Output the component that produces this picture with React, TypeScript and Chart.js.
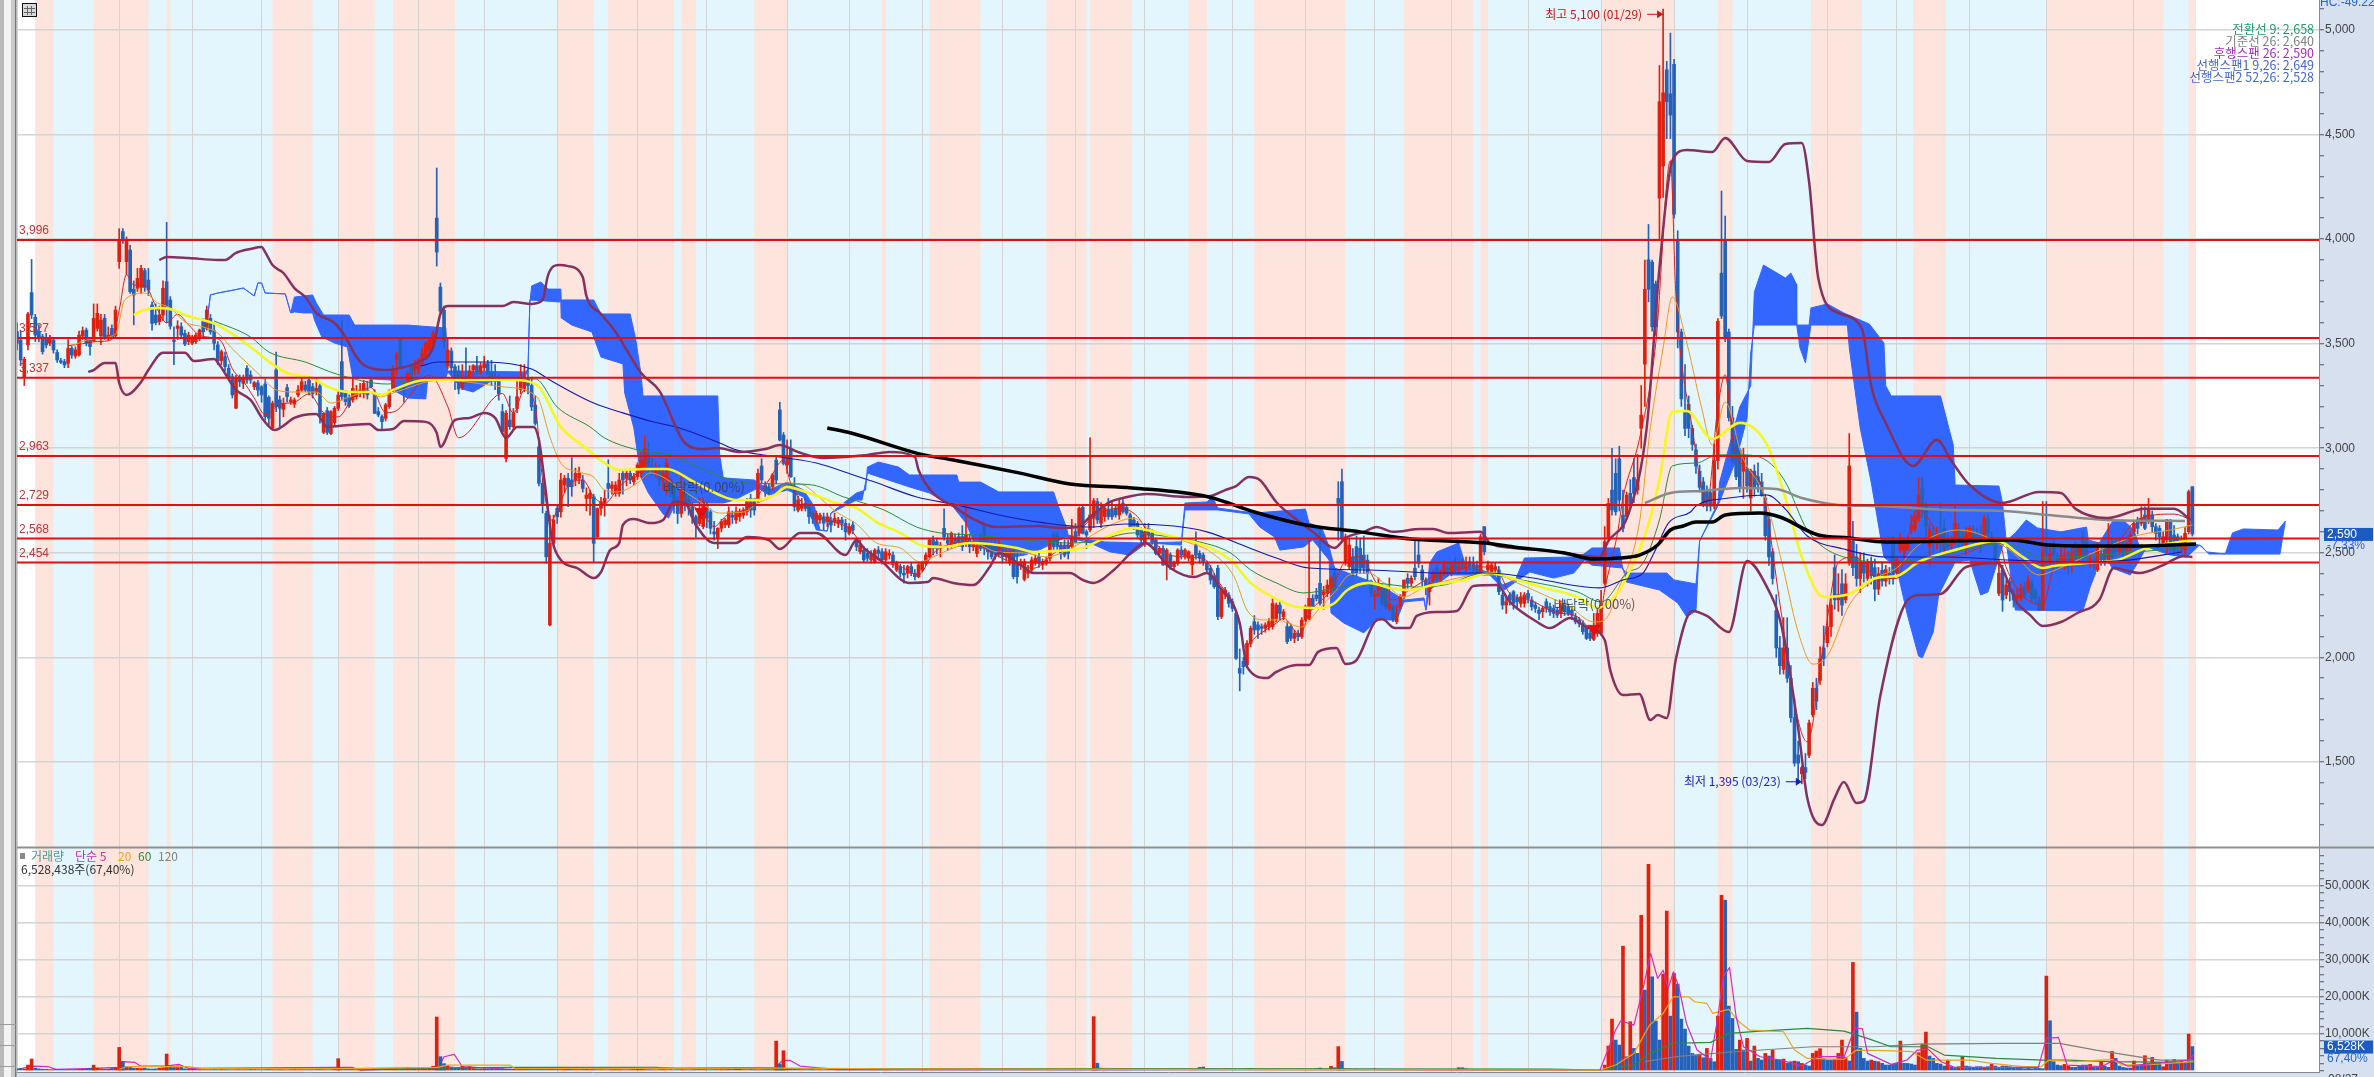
import React, { useEffect, useRef } from "react";
import { Chart, registerables } from "chart.js";

Chart.register(...registerables);

const FONT_NUM = '"Liberation Sans", sans-serif';
const FONT_KR = '"Noto Sans CJK KR", sans-serif';
const X_MAX = 630.7;
const PRICE_MIN = 1093;
const PRICE_MAX = 5143.5;
const VOL_MIN = -350;
const VOL_MAX = 60460;
const COLOR_UP = "#e0200f";
const COLOR_DOWN = "#2462ba";
const PANEL = "#d6e0ee";

const monthDays = [0, 28, 48, 67, 88, 110, 128, 148, 170, 189, 211, 228, 248, 270, 290, 309, 333, 353, 372, 393, 414, 434, 454, 474, 496, 515, 535, 556, 580];
const monthLabels = ["2018/04", "05", "06", "07", "08", "09", "10", "11", "12", "2019/01", "02", "03", "04", "05", "06", "07", "08", "09", "10", "11", "12", "2020/01", "02", "03", "04", "05", "06", "07", "08"];
const priceTicks = [1200, 1300, 1400, 1500, 1600, 1700, 1800, 1900, 2000, 2100, 2200, 2300, 2400, 2500, 2600, 2700, 2800, 2900, 3000, 3100, 3200, 3300, 3400, 3500, 3600, 3700, 3800, 3900, 4000, 4100, 4200, 4300, 4400, 4500, 4600, 4700, 4800, 4900, 5000, 5100];
const volumeTicks = [0, 2000, 4000, 6000, 8000, 10000, 12000, 14000, 16000, 18000, 20000, 22000, 24000, 26000, 28000, 30000, 32000, 34000, 36000, 38000, 40000, 42000, 44000, 46000, 48000, 50000, 52000, 54000, 56000, 58000];
const levels = [3996, 3527, 3337, 2963, 2729, 2568, 2454];
const levelLabels = ["3,996", "3,527", "3,337", "2,963", "2,729", "2,568", "2,454"];
const trendBandStart = 5;
const trendBandEnd = 597;
const pinkBands = [[5, 10], [21, 36], [41, 42], [70, 81], [88, 98], [103, 120], [148, 158], [162, 180], [182, 186], [202, 211], [237, 238], [250, 264], [282, 293], [294, 305.5], [321, 326], [339, 364], [380, 399], [401, 403], [434, 454], [466, 470], [491.5, 505.5], [519.5, 528.5], [556, 588], [595, 597]];

const candlesA = [[3558,3600,3470,3502],[3518,3560,3395,3422],[3342,3435,3300,3425],[3494,3650,3470,3642],[3744,3903,3620,3637],[3626,3640,3510,3541],[3557,3590,3510,3533],[3533,3545,3450,3462],[3526,3550,3480,3494],[3502,3540,3490,3526],[3518,3530,3455,3470],[3458,3470,3410,3422],[3419,3430,3405,3411],[3414,3425,3385,3398],[3406,3520,3385,3478],[3478,3490,3430,3446],[3441,3485,3430,3470],[3446,3560,3440,3541],[3536,3580,3520,3562],[3565,3575,3490,3502],[3518,3530,3445,3486],[3513,3690,3510,3621],[3573,3690,3560,3645],[3537,3640,3495,3613],[3621,3640,3520,3525],[3530,3580,3515,3541],[3573,3590,3525,3538],[3537,3680,3530,3661],[3892,4050,3860,3999],[4036,4050,3980,3996],[3892,4010,3830,3999],[3948,3970,3740,3749],[3760,3800,3590,3733],[3765,3860,3750,3812],[3769,3875,3740,3860],[3849,3860,3750,3769],[3804,3860,3730,3757],[3685,3700,3565,3597],[3637,3690,3590,3600],[3605,3680,3590,3637],[3637,3800,3610,3765],[3796,4080,3600,3677],[3709,3725,3570,3584],[3518,3580,3400,3510],[3573,3610,3520,3585],[3581,3600,3530,3541],[3549,3565,3490,3498],[3510,3555,3495,3541],[3502,3540,3495,3533],[3510,3550,3500,3541],[3525,3570,3515,3565],[3605,3620,3535,3557],[3573,3680,3565,3661],[3621,3640,3545,3557],[3562,3600,3470,3502],[3494,3510,3400,3419],[3419,3470,3400,3462],[3438,3460,3370,3390],[3382,3400,3330,3342],[3342,3355,3240,3255],[3191,3350,3190,3334],[3334,3350,3295,3318],[3310,3350,3285,3339],[3382,3395,3310,3326],[3350,3370,3310,3326],[3294,3320,3280,3313],[3313,3325,3250,3278],[3294,3300,3220,3255],[3307,3330,3135,3151],[3243,3250,3105,3143],[3098,3225,3090,3215],[3374,3460,3175,3199],[3231,3250,3100,3191],[3186,3240,3150,3215],[3290,3305,3220,3247],[3223,3245,3210,3231],[3211,3240,3195,3231],[3255,3300,3245,3278],[3278,3345,3270,3318],[3302,3320,3270,3278],[3326,3340,3255,3270],[3294,3310,3240,3262],[3270,3335,3255,3286],[3298,3310,3120,3151],[3076,3170,3070,3167],[3180,3195,3066,3076],[3071,3180,3065,3175],[3122,3200,3110,3191],[3191,3270,3180,3254],[3414,3610,3230,3247],[3262,3275,3205,3223],[3242,3255,3195,3202],[3231,3330,3220,3286],[3247,3300,3235,3270],[3262,3310,3245,3278],[3262,3325,3240,3310],[3278,3320,3235,3255],[3326,3340,3290,3294],[3266,3280,3165,3167],[3175,3195,3150,3159],[3151,3160,3085,3127],[3143,3215,3130,3207],[3199,3280,3190,3270],[3278,3395,3270,3374],[3425,3460,3350,3446],[3526,3530,3385,3390],[3294,3310,3220,3275],[3318,3370,3310,3358],[3390,3400,3310,3318],[3374,3420,3350,3406],[3374,3430,3355,3422],[3406,3480,3395,3454],[3438,3510,3425,3502],[3470,3530,3450,3518],[3486,3560,3475,3549]];
const candlesB = [[4101,4340,3871,3938],[3770,3790,3640,3655],[3660,3680,3480,3510],[3393,3530,3380,3470],[3465,3480,3360,3385],[3390,3400,3280,3325],[3369,3395,3260,3283],[3290,3400,3280,3330],[3340,3480,3310,3330],[3330,3395,3320,3370],[3375,3400,3345,3395],[3395,3440,3350,3365],[3365,3410,3355,3395],[3385,3440,3370,3405],[3405,3420,3350,3360],[3360,3420,3300,3335],[3335,3400,3280,3320],[3320,3350,3230,3260],[3175,3210,3070,3080],[2951,3180,2935,3167],[3135,3250,3090,3103],[3103,3190,3090,3167],[3190,3330,3170,3246],[3280,3400,3260,3326],[3286,3400,3270,3330],[3330,3380,3260,3300],[3300,3340,3180,3198],[3206,3250,3110,3119],[3007,3030,2820,2832],[2832,2850,2690,2728],[2688,2700,2450,2481],[2155,2680,2150,2545],[2545,2680,2530,2657],[2712,2730,2640,2672],[2696,2880,2670,2848],[2824,2870,2790,2856],[2856,2880,2720,2816],[2848,2955,2770,2816],[2848,2905,2820,2880],[2856,2910,2830,2880],[2848,2870,2790,2808],[2760,2810,2700,2776],[2760,2800,2680,2784],[2768,2780,2456,2545],[2577,2715,2570,2712],[2712,2765,2680,2744],[2736,2800,2675,2760],[2832,2945,2760,2808],[2808,2840,2780,2824],[2784,2840,2770,2824],[2784,2880,2770,2848],[2880,2890,2780,2848],[2856,2890,2820,2880],[2880,2900,2830,2848],[2840,2880,2825,2864],[2864,2930,2850,2920],[2880,2980,2860,2943],[2904,3060,2890,3000],[2967,3030,2880,2904],[2912,2950,2870,2896],[2880,2930,2860,2904],[2896,2920,2820,2848],[2848,2900,2800,2880],[2848,2950,2780,2928],[2848,2860,2770,2800],[2816,2830,2690,2736],[2752,2770,2640,2688],[2688,2880,2670,2800],[2784,2800,2700,2736],[2752,2770,2680,2720],[2720,2740,2640,2672],[2672,2680,2575,2633],[2640,2760,2630,2696],[2625,2760,2615,2744],[2720,2740,2620,2665],[2696,2710,2590,2617],[2600,2650,2560,2590],[2569,2620,2520,2617],[2617,2660,2600,2649],[2633,2665,2620,2657],[2633,2720,2620,2696],[2680,2700,2640,2670],[2657,2720,2640,2696],[2672,2710,2650,2696],[2680,2715,2665,2704],[2696,2760,2680,2752],[2760,2780,2670,2704],[2744,2760,2680,2704],[2752,2900,2740,2880],[2915,2950,2830,2848],[2824,2840,2770,2800],[2816,2830,2780,2792],[2816,2880,2800,2872],[2943,2960,2830,2848],[3183,3220,3035,3039],[3063,3075,2920,2927],[2920,3040,2880,2959],[2999,3040,2860,2864],[2800,2860,2700,2720],[2704,2770,2695,2752],[2712,2760,2700,2728],[2736,2760,2700,2712],[2720,2730,2640,2672],[2688,2700,2640,2665],[2657,2700,2640,2688],[2657,2690,2640,2680],[2672,2690,2610,2641],[2649,2690,2625,2672],[2657,2670,2600,2633],[2649,2690,2630,2665],[2641,2670,2620,2657],[2657,2670,2610,2641],[2641,2660,2560,2601],[2593,2640,2585,2625],[2633,2650,2590,2609]];
const candlesC = [[2553,2570,2510,2529],[2505,2560,2495,2537],[2513,2530,2455,2466],[2497,2520,2460,2474],[2466,2510,2450,2489],[2458,2520,2450,2513],[2513,2530,2470,2497],[2505,2520,2445,2466],[2466,2520,2455,2505],[2489,2515,2470,2497],[2489,2505,2430,2450],[2418,2460,2410,2450],[2434,2445,2385,2402],[2402,2440,2355,2394],[2402,2440,2380,2434],[2434,2450,2390,2402],[2402,2420,2370,2386],[2386,2450,2380,2442],[2418,2460,2410,2450],[2450,2500,2440,2489],[2481,2570,2470,2561],[2561,2580,2490,2521],[2553,2570,2495,2521],[2521,2550,2480,2537],[2617,2710,2560,2577],[2561,2590,2510,2545],[2537,2600,2520,2593],[2569,2590,2530,2545],[2577,2595,2530,2553],[2577,2630,2510,2529],[2545,2720,2530,2585],[2569,2590,2500,2529],[2529,2570,2510,2553],[2497,2540,2480,2537],[2569,2590,2510,2521],[2625,2640,2490,2521],[2553,2570,2470,2505],[2545,2560,2470,2481],[2545,2560,2470,2505],[2513,2560,2480,2545],[2513,2530,2450,2481],[2481,2520,2460,2505],[2450,2520,2440,2505],[2513,2530,2375,2386],[2450,2500,2355,2386],[2442,2470,2420,2458],[2373,2470,2365,2458],[2402,2440,2380,2418],[2418,2480,2400,2466],[2450,2490,2440,2474],[2482,2500,2430,2450],[2442,2470,2420,2458],[2450,2480,2440,2466],[2474,2570,2460,2561],[2588,2600,2510,2529],[2588,2600,2510,2529],[2537,2550,2470,2497],[2537,2560,2480,2489],[2537,2560,2470,2497],[2529,2660,2520,2577],[2601,2640,2550,2553],[2593,2720,2580,2713],[2717,2730,2590,2593],[2601,2610,2520,2585],[2609,3050,2600,2681],[2665,2760,2620,2749],[2745,2760,2640,2657],[2641,2740,2620,2713],[2673,2725,2650,2713],[2705,2760,2660,2673],[2705,2745,2660,2673],[2713,2730,2670,2681],[2681,2760,2660,2729],[2737,2755,2690,2697],[2717,2730,2680,2689],[2681,2690,2620,2625],[2657,2670,2610,2625],[2641,2650,2570,2585],[2609,2620,2540,2561],[2545,2640,2530,2601],[2617,2640,2570,2585],[2593,2610,2540,2553],[2561,2570,2490,2497],[2497,2530,2480,2521],[2521,2535,2440,2442],[2442,2520,2370,2513],[2489,2500,2420,2434],[2434,2460,2420,2450],[2450,2520,2440,2513],[2513,2530,2470,2489],[2481,2520,2470,2513],[2474,2510,2460,2505],[2442,2490,2395,2489],[2537,2600,2470,2489],[2497,2510,2450,2474],[2489,2500,2440,2458],[2450,2460,2400,2418],[2426,2440,2350,2370],[2386,2400,2330,2338],[2426,2440,2180,2195],[2195,2330,2185,2322],[2298,2335,2280,2322],[2298,2310,2240,2258],[2266,2280,2220,2234],[2210,2220,1990,1995],[1947,2040,1840,1924],[1980,2000,1920,1955],[1963,2080,1950,2067],[2067,2150,2050,2139],[2170,2200,2110,2131],[2155,2170,2090,2131],[2147,2160,2110,2139],[2139,2165,2120,2155],[2147,2185,2130,2171],[2147,2280,2135,2258]];
const candlesD = [[2186,2260,2170,2250],[2250,2270,2180,2210],[2194,2230,2180,2218],[2147,2170,2065,2075],[2147,2160,2080,2091],[2091,2130,2070,2115],[2115,2130,2080,2099],[2099,2190,2090,2178],[2178,2250,2170,2242],[2186,2570,2180,2282],[2282,2300,2230,2242],[2298,2330,2270,2282],[2354,2620,2250,2258],[2298,2340,2230,2314],[2306,2370,2290,2346],[2322,2390,2310,2378],[2402,2420,2310,2322],[2760,2840,2560,2736],[2840,2900,2560,2569],[2450,2590,2440,2577],[2434,2570,2420,2537],[2481,2520,2390,2402],[2529,2580,2390,2402],[2521,2570,2400,2426],[2489,2580,2400,2426],[2465,2490,2360,2402],[2362,2370,2290,2306],[2290,2320,2230,2306],[2322,2380,2290,2354],[2338,2350,2250,2258],[2330,2340,2230,2242],[2234,2380,2220,2258],[2242,2250,2170,2178],[2170,2250,2160,2210],[2242,2300,2230,2290],[2290,2370,2280,2370],[2378,2400,2330,2354],[2354,2390,2340,2378],[2426,2560,2370,2386],[2489,2560,2430,2450],[2418,2440,2340,2370],[2370,2380,2300,2338],[2314,2365,2250,2354],[2370,2420,2350,2402],[2426,2440,2350,2370],[2378,2420,2360,2402],[2402,2460,2390,2442],[2426,2450,2390,2402],[2402,2450,2390,2442],[2450,2480,2410,2418],[2418,2460,2405,2434],[2450,2470,2420,2426],[2426,2480,2410,2450],[2458,2480,2420,2434],[2450,2480,2400,2418],[2442,2460,2395,2410],[2410,2590,2400,2577],[2625,2625,2490,2505],[2418,2460,2400,2442],[2410,2450,2395,2442],[2418,2450,2405,2434],[2418,2435,2300,2314],[2298,2310,2230,2250],[2250,2290,2210,2266],[2298,2310,2250,2274],[2314,2320,2230,2258],[2282,2300,2240,2266],[2258,2310,2240,2290],[2258,2310,2240,2298],[2306,2320,2260,2282],[2274,2290,2225,2242],[2250,2265,2215,2234],[2226,2240,2180,2210],[2218,2245,2190,2234],[2266,2280,2215,2234],[2242,2260,2200,2218],[2234,2250,2190,2210],[2226,2240,2190,2202],[2210,2270,2190,2250],[2258,2275,2200,2218],[2242,2255,2200,2210],[2226,2240,2180,2202],[2194,2210,2160,2170],[2178,2190,2145,2162],[2162,2175,2110,2123],[2139,2150,2085,2091],[2115,2130,2080,2091],[2086,2210,2080,2115],[2115,2240,2100,2210],[2115,2320,2105,2250],[2354,2625,2345,2553],[2569,2760,2560,2736],[2800,3000,2680,2705],[2880,2950,2680,2696],[2950,3010,2700,2752],[2680,2800,2600,2617],[2673,2790,2660,2776],[2784,2850,2710,2736],[2860,2950,2740,2784],[2800,2970,2780,2850]];
const candlesE = [[3095,3300,3000,3158],[3402,3900,3200,3760],[3901,4070,3700,3760],[3890,3900,3560,3581],[3786,3800,3540,3581],[4196,4830,4000,4657],[4350,5100,4200,4700],[4810,4850,4480,4657],[4695,4985,4480,4593],[4836,4860,4100,4119],[3991,4040,3480,3556],[3556,3570,3200,3236],[3171,3400,3060,3095],[3210,3250,3050,3095],[3095,3110,2990,3018],[2992,3020,2880,2915],[2890,2920,2790,2813],[2839,2860,2720,2736],[2800,2820,2700,2723],[2787,2800,2700,2723],[2723,3020,2710,2941],[2941,3620,2900,3607],[3837,4230,3620,3632],[3991,4110,3510,3530],[3556,3570,3130,3146],[3146,3200,2930,2941],[3018,3060,2850,2864],[2992,3000,2790,2813],[2890,3000,2760,2967],[2900,2960,2790,2820],[2762,2900,2700,2890],[2890,2920,2770,2813],[2864,2930,2790,2826],[2839,2880,2770,2775],[2762,2780,2560,2582],[2659,2680,2440,2480],[2505,2520,2350,2377],[2224,2300,2000,2045],[2045,2100,1920,1960],[1942,2190,1920,2045],[2045,2190,1880,1900],[1900,1960,1690,1712],[1712,1800,1480,1494],[1533,1600,1400,1494],[1443,1480,1395,1473],[1473,1540,1420,1450],[1532,1700,1520,1686],[1725,1880,1715,1852],[1852,1900,1750,1790],[1890,2050,1870,1993],[2045,2150,1960,1993],[2070,2250,2050,2147],[2147,2280,2100,2250],[2429,2490,2230,2275],[2275,2400,2220,2300],[2352,2420,2200,2250],[2275,2400,2260,2352],[2454,3070,2440,2915],[2557,2650,2390,2429],[2480,2540,2340,2377],[2377,2500,2310,2454],[2454,2500,2360,2403],[2377,2470,2340,2454],[2454,2480,2350,2390],[2429,2470,2270,2326],[2326,2430,2300,2400],[2416,2450,2340,2365],[2365,2440,2340,2420],[2403,2430,2350,2377],[2544,2580,2350,2377],[2403,2480,2390,2467]];
const candlesF = [[2513,2590,2500,2561],[2513,2570,2480,2553],[2521,2580,2510,2561],[2609,2680,2590,2633],[2617,2700,2600,2673],[2665,2860,2650,2776],[2808,2860,2670,2721],[2721,2740,2570,2625],[2529,2640,2440,2609],[2593,2630,2500,2545],[2545,2620,2520,2593],[2601,2740,2500,2545],[2617,2660,2490,2513],[2553,2590,2500,2529],[2537,2580,2510,2553],[2561,2730,2540,2641],[2617,2640,2520,2577],[2577,2600,2530,2545],[2529,2620,2490,2593],[2577,2630,2550,2617],[2593,2630,2540,2569],[2585,2620,2540,2569],[2593,2630,2500,2545],[2577,2680,2560,2665],[2665,2680,2570,2593],[2577,2600,2540,2561],[2553,2570,2440,2473],[2306,2470,2295,2402],[2418,2440,2220,2274],[2298,2370,2280,2346],[2362,2380,2270,2314],[2306,2320,2240,2274],[2282,2330,2260,2298],[2282,2350,2270,2330],[2338,2360,2280,2298],[2322,2390,2310,2370],[2354,2370,2260,2282],[2314,2330,2260,2282],[2274,2290,2225,2226],[2226,2745,2225,2505],[2529,2745,2440,2489],[2450,2530,2430,2497],[2529,2560,2440,2489],[2481,2500,2420,2450],[2466,2520,2450,2489],[2442,2520,2420,2481],[2489,2510,2400,2434],[2442,2530,2410,2497],[2529,2550,2440,2473],[2481,2540,2460,2521],[2577,2600,2440,2473],[2553,2570,2460,2489],[2450,2490,2430,2473],[2466,2480,2420,2441],[2418,2550,2410,2537],[2497,2520,2440,2466],[2513,2530,2440,2458],[2466,2640,2450,2537],[2545,2570,2470,2481],[2553,2570,2480,2505],[2505,2570,2490,2537],[2529,2550,2470,2497],[2513,2550,2490,2529],[2521,2600,2510,2585],[2601,2650,2590,2641],[2649,2670,2590,2617],[2641,2720,2630,2665],[2681,2720,2610,2617],[2649,2760,2640,2705],[2681,2700,2600,2625],[2625,2640,2560,2593],[2617,2630,2530,2577],[2545,2600,2530,2577],[2561,2660,2500,2657],[2649,2660,2510,2553],[2585,2630,2490,2513],[2577,2590,2490,2545],[2529,2580,2500,2561],[2513,2620,2480,2593],[2601,2800,2590,2792],[2816,2816,2580,2590]];
const candleChunkStarts = [0, 115, 230, 345, 445, 516];

const volumeEarly = [500,600,450,300,300,700,500,400,350,300,280,320,300,260,300,280,320,350,400,450,600,300,700,500,400,450,600,800,300,300,1100,900,700,650,600,700,500,450,500,700,800,300,1200,1000,1300,900,500,400,380,350,320,300,280,300,320,300,340,300,280,260,300,320,280,300,350,320,280,260,300,340,300,280,300,260,240,300,320,280,300,260,280,300,320,340,300,260,280,400,320,700,500,400,350,300,280,300,320,280,300,260,300,450,400,600,500,350,700,900,500,400,450,700,500,800,1200,300,320,300,1400,1000,800,900,1200,700,1100,600,500,450,500,400,380,350,420,500,380,400,350,420,380,350,320,340,300,360,320,300,340,320,300,280,350,380,320,300,280,320,340,300,320,280,300,260,280,300,320,300,280,260,300,320,700,400,320,300,280,260,300,320,280,300,260,280,300,260,240,280,300,320,300,280,260,300,280,320,300,340,320,700,500,300,280,320,300,260,280,300,320,300,280,1200,700,500,400,350,320,300,280,300,320,280,300,260,280,320,300,340,300,280,300,320,300,280,260,300,320,300,340,300,280,260,300,280,300,260,280,320,300,340,300,280,260,300,320,340,400,300,280,300,260,320,300,280,300,340,300,280,320,400,340,300,280,300,260,300,280,320,300,340,420,380,300,280,300,320,280,300,260,300,320,340,300,280,320,600,320,300,900,700,550,450,400,500,380,350,420,320,300,340,300,280,320,300,260,300,280,320,450,350,300,280,260,300,320,340,900,1000,600,450,400,380,350,500,420,380,350,320,400,500,650,500,420,450,380,350,400,320,300,280,320,300,340,380,400,300,280,320,500,700,320,300,1200,800,600,500,450,400,380,420,350,320,300,400,500,350,300,280,320,300,260,280,300,320,280,340,300,260,300,280,320,300,260,240,280,300,320,800,800,500,400,350,320,300,280,300,260,240,280,300,260,240,220,260,280,240,220,250,230,260,220,200,240,220,260,240,220,200,230,260,240];
const volumeSpikeDays = [3, 4, 21, 28, 29, 41, 88, 115, 116, 117, 208, 209, 210, 295, 296, 362, 363];
const volumeSpikeValues = [1530, 3150, 1500, 6300, 2500, 4500, 3240, 14500, 3800, 1900, 8000, 1800, 5400, 14600, 2000, 6500, 2500];
const volumeSpikeUp = [1, 1, 1, 1, 0, 1, 1, 1, 0, 0, 1, 0, 1, 1, 0, 1, 0];
const volumeLate = [[1500,1],[6660,1],[13950,1],[8280,0],[6930,0],[33660,1],[3780,0],[13230,1],[6030,0],[4680,0],[42000,1],[21780,0],[55800,1],[25380,0],[13410,0],[8280,0],[26100,1],[43110,1],[14760,0],[26280,1],[23400,0],[13950,0],[11250,0],[6660,0],[4680,0],[4230,0],[4500,1],[3510,0],[6030,1],[3330,0],[2430,0],[14760,1],[47430,1],[46080,0],[17460,0],[14130,0],[5760,0],[8280,1],[5580,0],[8730,1],[2610,0],[6660,1],[3330,0],[2880,0],[4680,1],[3960,0],[5580,1],[2880,0],[2880,0],[3150,1],[1980,0],[2430,0],[2610,1],[2430,0],[1980,1],[1530,0],[1260,0],[4680,1],[5310,1],[5940,1],[3330,0],[2880,0],[2880,0],[3060,1],[4680,1],[8280,1],[3600,1],[2610,0],[29250,1],[15840,0],[6030,0],[3330,0],[2610,0],[2880,1],[2610,0],[2430,1],[1980,0],[1530,0],[1530,0],[1710,0],[1980,0],[8010,1],[1980,0],[1980,0],[1800,0],[1530,0],[4860,1],[7200,1],[10440,1],[3960,0],[3330,0],[1980,0],[1800,0],[1260,0],[2880,1],[1080,0],[630,0],[1080,1],[3780,1],[1260,0],[1080,0],[900,0],[1080,0],[1080,0],[900,1],[1080,0],[1710,1],[1260,0],[630,0],[1260,0],[1260,0],[1080,0],[900,0],[630,0],[630,0],[540,0],[630,0],[540,0],[630,0],[630,0],[540,0],[25560,1],[13500,0],[2430,0],[1530,0],[1350,0],[1710,1],[1260,1],[900,0],[900,0],[1260,0],[1530,0],[1530,0],[1710,1],[900,0],[900,0],[2430,1],[1260,0],[900,0],[5220,1],[3330,0],[1260,0],[900,0],[720,0],[720,0],[2610,1],[1260,0],[1530,0],[4050,1],[1980,0],[3600,1],[2250,0],[2250,0],[1080,1],[2880,1],[1980,0],[3060,1],[1980,0],[2700,1],[1980,0],[9900,1],[6528,0]];

const bbUpper = [[39,3900],[41,3915],[47,3910],[55,3900],[57,3900],[60,3934],[64,3953],[67,3962],[68,3938],[70,3876],[73,3838],[76,3766],[79,3723],[82,3647],[87,3599],[90,3532],[93,3436],[95,3398],[101,3374],[106,3388],[110,3412],[114,3484],[116,3642],[118,3680],[133,3680],[136,3699],[141,3690],[144,3709],[145.5,3828],[148.5,3876],[151,3871],[155,3819],[156,3728],[160,3642],[164,3556],[171,3360],[176,3274],[183,3025],[188,2996],[192,3001],[198,2982],[205,2996],[209,3015],[214,2982],[221,2953],[233,2968],[239,2982],[246,2958],[247,2896],[251,2786],[257,2719],[261,2671],[268.5,2623],[279.5,2628],[286,2619],[290.5,2623],[294,2671],[299.5,2743],[303,2762],[309.5,2781],[320.5,2767],[327,2772],[331,2800],[334,2819],[337.5,2862],[340.5,2848],[345,2743],[350,2666],[355,2600],[361,2523],[364,2571],[369,2600],[372.5,2623],[377,2600],[384.5,2614],[388,2614],[392,2595],[401,2600],[403.5,2547],[410,2523],[418,2513],[427.5,2490],[433.5,2480],[436,2556],[441.5,2686],[446.5,3097],[450,3862],[453.5,4374],[457.5,4426],[464.5,4417],[468,4484],[474,4374],[480,4369],[484.5,4455],[489,4460],[491,4273],[493.5,3814],[499,3647],[505.5,3570],[508,3298],[512,3121],[519.5,2915],[526,3040],[530,2939],[535,2824],[544,2738],[554,2791],[560,2786],[564,2710],[572.5,2666],[583,2710],[591,2710],[595.5,2657]];
const bbLower = [[19.5,3365],[21,3374],[24,3408],[27,3408],[28,3312],[30,3255],[34,3317],[36,3374],[40,3456],[43,3456],[46,3456],[48.5,3417],[54,3427],[55.5,3398],[60,3279],[64,3231],[67.5,3135],[70.5,3087],[76,3145],[78.5,3159],[82,3164],[85,3102],[91,3111],[96.5,3116],[99,3087],[103,3092],[106,3130],[112,3126],[115,3073],[116,3006],[120,3135],[124,3145],[128,3169],[131,3145],[134,3049],[137,3102],[141.5,3102],[143,3040],[144.5,2848],[146.5,2576],[149,2465],[153.5,2427],[158,2379],[160,2408],[162.5,2513],[165,2547],[166,2633],[169,2661],[173.5,2642],[177,2657],[180,2743],[183,2738],[186,2633],[191,2547],[197,2547],[200,2576],[206,2561],[209,2518],[214.5,2595],[219,2595],[227,2489],[230,2561],[232,2523],[236.5,2465],[244.5,2356],[249.5,2360],[251,2379],[256.5,2356],[262,2346],[266.5,2432],[269,2499],[275,2442],[278.5,2403],[288.5,2403],[292,2370],[295,2356],[300.5,2418],[306,2513],[309,2547],[316,2427],[322.5,2384],[326,2403],[329.5,2336],[335,2164],[337,1954],[342.5,1901],[345,1930],[350.5,1963],[354,1963],[356.5,2026],[361.5,2045],[364,1968],[367,1987],[372,2169],[374,2183],[377.5,2140],[381.5,2140],[383.5,2198],[389,2217],[394.5,2222],[399,2341],[405.5,2346],[409,2265],[416.5,2169],[420,2140],[425.5,2188],[430,2145],[435,2083],[436.5,1940],[440,1820],[444.5,1825],[447.5,1700],[449.5,1724],[452,1710],[454.5,1992],[459,2222],[463,2198],[469,2121],[474,2461],[479,2351],[483.5,2145],[488,1662],[490.5,1327],[494.5,1198],[498,1327],[500.5,1404],[504,1303],[506,1313],[510.5,1815],[518,2274],[521.5,2298],[527,2303],[534,2432],[542.5,2451],[548,2260],[551.5,2203],[555,2150],[560,2169],[564.5,2212],[570.5,2274],[574.5,2427],[581.5,2403],[588,2441],[593.5,2484],[596,2480]];
const ma240 = [[222,3097],[228.5,3073],[247.5,2972],[256.5,2944],[274.5,2882],[288.5,2829],[305.5,2810],[326.5,2767],[339,2695],[353,2633],[368,2600],[382,2566],[402,2547],[410,2528],[424,2499],[432,2470],[439,2475],[444.5,2489],[449.5,2537],[453,2609],[456.5,2628],[460,2647],[464.5,2647],[468,2681],[477.5,2690],[483,2671],[493.5,2585],[502,2571],[512,2552],[529,2556],[546.5,2561],[556.5,2537],[571,2532],[581,2532],[597,2542]];
const ma120 = [[110.5,3393],[115.5,3412],[128,3412],[141,3379],[146,3326],[158,3216],[166,3169],[174.5,3125],[181.5,3097],[192.5,3025],[197,2992],[204.5,2968],[211,2953],[219,2929],[230,2867],[235,2838],[246.5,2767],[257.5,2729],[269,2681],[281.5,2643],[294,2623],[303.5,2638],[317,2628],[326,2600],[337,2528],[345,2475],[354,2427],[370.5,2418],[391,2403],[403.5,2403],[413.5,2384],[433.5,2332],[440,2370],[445.5,2403],[448.5,2499],[452.5,2643],[458.5,2695],[460,2724],[469,2762],[479.5,2776],[484.5,2709],[490.5,2580],[500.5,2518],[512,2480],[529,2480],[546.5,2465],[564,2456],[578.5,2465],[593,2504]];
const ma60 = [[54,3609],[64,3532],[69,3460],[79,3412],[87.5,3355],[101.5,3307],[114,3331],[142,3331],[148,3197],[157,3102],[161,3049],[170,2992],[179,2968],[186.5,2910],[194,2858],[200,2834],[212,2829],[218,2824],[226.5,2767],[230,2748],[237.5,2705],[246.5,2623],[253,2595],[262,2585],[276,2561],[287,2547],[294,2552],[306,2595],[312,2585],[324,2552],[332.5,2499],[338,2418],[345,2356],[352.5,2308],[361.5,2332],[370.5,2356],[383.5,2336],[391,2346],[402,2403],[409,2380],[416.5,2356],[427.5,2313],[434,2265],[441,2403],[445.5,2451],[450,2657],[453.5,2915],[460,2929],[466,2968],[473,2968],[479.5,2939],[484.5,2839],[490.5,2609],[500.5,2480],[513.5,2456],[529.5,2499],[545,2547],[555,2475],[570.5,2489],[596,2528]];
const maYellow = [[32,3637],[34,3656],[38.5,3671],[43,3661],[46,3637],[51,3613],[55,3589],[59.5,3541],[64,3484],[69.5,3408],[74,3360],[80.5,3336],[86,3288],[91,3269],[96.5,3269],[100,3255],[103,3279],[112,3326],[136,3326],[142.5,3302],[149,3102],[155.5,3006],[161,2929],[165,2896],[172,2901],[178,2901],[185.5,2839],[192.5,2776],[197,2752],[203,2752],[207.5,2776],[211,2815],[214.5,2800],[218.5,2776],[224.5,2738],[230,2714],[235.5,2647],[242,2595],[248.5,2532],[254,2528],[261,2547],[266.5,2542],[274,2523],[278.5,2504],[285,2509],[292,2523],[298.5,2575],[306,2619],[309.5,2609],[317,2575],[325,2537],[332.5,2465],[338,2356],[345,2279],[350.5,2241],[357,2236],[361,2260],[364.5,2322],[370.5,2356],[376,2332],[381.5,2322],[388,2346],[396.5,2370],[403.5,2403],[411,2370],[418.5,2332],[427.5,2289],[433,2236],[438.5,2308],[442,2418],[446.5,2609],[450,2848],[453.5,3173],[457.5,3178],[464.5,3044],[472,3121],[479.5,3015],[484.5,2762],[489,2480],[495,2289],[502,2303],[509.5,2380],[515,2389],[521,2456],[532,2518],[542.5,2556],[549.5,2480],[555,2427],[558,2437],[567,2451],[575.5,2465],[583.5,2523],[596,2561]];
const maOrange = [[15,3489],[20.5,3522],[27,3546],[29.5,3709],[35,3742],[38.5,3695],[42,3671],[46,3604],[51,3580],[55,3551],[58.5,3484],[63,3408],[66.5,3350],[71,3279],[76,3269],[82,3269],[86,3216],[91,3245],[96,3269],[99.5,3245],[103,3264],[116,3326],[133.5,3293],[142.5,3245],[146,3054],[149,2929],[154,2886],[158,2862],[161,2800],[164.5,2791],[170,2834],[173.5,2882],[177,2862],[181,2815],[186.5,2752],[192.5,2690],[199,2695],[203,2738],[207.5,2776],[211,2834],[215.5,2824],[220,2762],[224.5,2695],[230,2638],[235.5,2547],[242,2523],[247.5,2456],[251,2480],[256.5,2523],[262,2547],[268.5,2504],[276,2499],[282,2480],[289.5,2528],[296,2600],[301.5,2647],[306,2666],[309.5,2623],[313,2595],[320.5,2552],[327,2504],[333.5,2384],[337,2226],[341.5,2179],[345,2179],[352,2145],[356,2217],[361.5,2322],[365,2394],[370.5,2403],[374.5,2356],[380,2289],[385.5,2336],[392.5,2370],[400,2394],[405.5,2394],[411,2356],[418.5,2298],[425.5,2241],[432,2169],[435,2179],[439,2336],[444.5,2643],[447.5,3097],[451,3479],[453.5,3723],[457.5,3503],[461.5,3197],[464.5,3015],[468,3221],[472.5,2968],[479,2762],[483.5,2456],[488,2121],[492,1968],[496,2006],[502,2250],[509.5,2380],[515,2427],[521,2537],[532,2609],[546,2513],[554,2394],[558.5,2418],[570.5,2513],[581.5,2585],[590,2609],[596,2633]];
const maRed = [[14,3490],[18,3500],[22,3510],[26,3520],[28,3660],[30,3830],[32,3780],[35,3780],[38,3680],[41,3600],[44,3640],[47,3590],[50,3540],[53,3530],[56,3510],[59,3380],[62,3320],[65,3240],[68,3160],[72,3210],[76,3220],[80,3260],[84,3170],[88,3150],[92,3240],[97,3290],[101,3170],[104,3180],[108,3260],[113,3350],[118,3200],[121,3050],[133,3262],[136,3167],[139,3278],[142,3198],[144,2848],[146.5,2656],[148,2705],[151.5,2832],[155,2848],[158,2768],[161,2736],[165,2816],[170,2880],[174,2904],[179,2848],[182,2784],[185,2728],[188,2688],[191,2625],[194.5,2680],[200,2712],[206,2848],[210,2943],[212,2832],[218,2688],[225,2640],[228,2617],[232,2529],[236,2466],[242,2434],[247,2394],[251,2497],[256.5,2545],[262,2553],[266.5,2505],[273,2450],[278.5,2426],[284,2497],[289.5,2561],[293,2641],[296.5,2689],[302,2713],[307,2673],[310.5,2577],[315,2497],[319.5,2481],[325,2473],[329.5,2354],[334,2226],[336.5,2051],[339.5,2099],[345,2163],[347,2187],[351.5,2107],[354,2210],[360,2322],[363.5,2450],[368,2481],[372.5,2354],[377,2274],[381.5,2322],[386,2370],[391,2402],[400,2433],[405.5,2418],[409,2306],[414.5,2274],[421,2218],[427.5,2194],[433,2115],[435,2322],[438.5,2593],[440,2762],[444.5,3043],[449,3504],[453,4375],[454.5,3735],[459,3095],[463,2736],[466,3197],[468,3351],[470.5,2992],[477.5,2839],[483.5,2198],[487.5,1737],[490.5,1596],[495,2070],[499,2454],[503.5,2480],[509,2390],[515,2377],[520.7,2710],[526.5,2582],[529.5,2480],[535,2505],[543,2557],[545,2429],[555,2249],[558,2429],[564,2505],[572.5,2505],[581,2659],[591,2685],[595.5,2659]];
const maGray = [[446,2738],[453,2786],[461.5,2796],[472,2810],[482,2805],[489,2762],[499,2729],[509.5,2724],[529,2705],[544,2700],[556.5,2681],[572.5,2657],[594,2652]];

const cloudTop = [[52,3599],[53,3733],[55,3742],[59.5,3757],[62,3766],[65,3728],[66,3790],[67,3790],[68,3742],[73.5,3738],[75,3647],[76,3723],[81,3733],[82,3695],[84,3637],[91,3637],[92.5,3589],[107,3589],[117.5,3575],[118,3369],[121,3369],[139,3365],[140,3374],[140.5,3690],[141,3776],[143.5,3795],[145.5,3761],[149,3761],[149.1,3709],[158,3709],[160,3642],[168,3642],[169.5,3522],[171,3350],[171.5,3250],[192,3250],[192.5,2972],[193.5,2858],[202,2848],[206,2800],[211,2838],[215.5,2800],[218.5,2719],[220,2609],[222,2604],[223,2690],[230,2786],[232.5,2800],[233,2910],[236,2934],[241.5,2910],[244.5,2872],[257.5,2872],[258,2838],[264,2838],[269,2791],[284,2791],[285.5,2714],[287.5,2623],[288,2585],[294,2561],[298,2552],[308.5,2547],[319,2552],[320,2738],[326,2743],[327.5,2767],[329,2714],[339,2690],[353,2709],[354,2642],[357.5,2619],[359.5,2528],[361,2427],[373.5,2346],[380,2274],[385.5,2284],[386,2226],[387,2451],[389,2504],[395,2547],[397,2432],[404.5,2403],[407,2346],[410.5,2370],[413,2475],[426.5,2480],[429,2490],[431.5,2523],[439,2523],[440,2418],[441.5,2403],[452,2403],[454,2370],[460,2351],[461,2556],[466,2738],[466.5,2839],[472,3197],[475,3298],[476,3747],[478.5,3876],[484.5,3814],[486,3838],[487.5,3785],[487.6,3589],[491,3589],[491.5,3671],[496,3690],[500.5,3647],[507.5,3594],[511.5,3503],[512,3298],[513.5,3250],[527,3250],[530.5,3015],[531,2824],[543,2819],[544,2738],[545,2556],[547.5,2595],[550.5,2657],[553.5,2619],[560,2600],[567,2623],[567.5,2561],[570.5,2547],[574,2647],[577,2657],[580,2609],[581.5,2528],[596,2547],[598.5,2532],[600.5,2494],[605,2494],[607,2595],[610,2614],[619.5,2609],[621.5,2652]];
const cloudBottom = [[52,3599],[53,3733],[55,3742],[59.5,3757],[62,3766],[65,3728],[66,3790],[67,3790],[68,3742],[73.5,3738],[75,3647],[76,3652],[78.5,3647],[81,3647],[81.5,3613],[83.5,3532],[87,3503],[90.5,3484],[92,3336],[102.5,3326],[103,3279],[107,3240],[112,3236],[112.5,3326],[117.5,3336],[118,3365],[122,3283],[125,3269],[130,3322],[139,3331],[140,3374],[140.5,3709],[149,3699],[149.1,3623],[152,3589],[157.5,3556],[160,3436],[166,3403],[166.5,3264],[169,3097],[171,2858],[173,2786],[177,2686],[178.5,2666],[180.5,2738],[193.5,2738],[196.5,2752],[203,2810],[206,2776],[211,2800],[215.5,2767],[219,2609],[222,2604],[223,2690],[230,2752],[231.5,2752],[233,2881],[244.5,2815],[250,2786],[256.5,2719],[260,2642],[262,2561],[266.5,2504],[273,2480],[276,2489],[280,2513],[287.5,2576],[294,2547],[299.5,2504],[305,2489],[309.5,2547],[319,2537],[320,2705],[329,2705],[337.5,2686],[340.5,2623],[344.5,2576],[346,2513],[352.5,2528],[355,2561],[359.5,2465],[360,2212],[363.5,2164],[369,2117],[372.5,2179],[378,2179],[380,2265],[385.5,2274],[386,2226],[387,2322],[392.5,2394],[403.5,2394],[407.5,2322],[410.5,2360],[414.5,2408],[421,2379],[426.5,2403],[429.5,2465],[431.5,2441],[440,2427],[441,2360],[450,2322],[455,2260],[457.5,2193],[460,2222],[461,2556],[466,2724],[471,2944],[474,3145],[475,3455],[476,3589],[487.6,3589],[488.5,3480],[490,3408],[491.5,3589],[501.5,3589],[502,3480],[505,3097],[508,2839],[511.5,2480],[515,2427],[518,2198],[521,2006],[522,1997],[525,2121],[526.5,2298],[531,2456],[535,2465],[538,2298],[540,2312],[544,2532],[545,2556],[547.5,2226],[566,2222],[568,2336],[569.5,2403],[570.5,2547],[574,2427],[579,2394],[581,2451],[583.5,2528],[590,2489],[594.5,2480],[598,2537],[600,2504],[605,2494],[620,2494],[621.5,2652]];

const volMa5Early = [[0,300],[4,1260],[8.6,1080],[10.7,360],[19,540],[28,900],[29,2430],[32.3,2250],[33.8,1260],[40.8,1260],[44.3,1710],[47,630],[87.6,900],[91.8,900],[94,180],[115.5,900],[117,3780],[119.8,4410],[122,1080],[135,360],[207.8,900],[209.9,2880],[212,2700],[214.5,1260],[225,300],[300,300],[350,350],[433.7,180]];
const volMa5Late = [[433.7,180],[438,10980],[439.4,13500],[443,12330],[445.6,22680],[447.6,31680],[449.5,24930],[451,27180],[452.4,22230],[453.8,26730],[455.3,22680],[457.4,12780],[460.3,5580],[464,2880],[466,14580],[467.5,25380],[469.2,27900],[471,14580],[473,6480],[477.6,3780],[483.3,2880],[489,1260],[493.4,3780],[500.6,3780],[503.5,11520],[505.6,11340],[507,4680],[513.5,1710],[517.8,2880],[520.7,5580],[523.6,5850],[527.2,2430],[530.8,900],[546.6,900],[553.8,900],[556,8730],[559.3,9000],[561.7,1530],[571,1080],[574.7,2880],[578.3,1260],[585.5,1980],[594.8,2880],[596.4,4230]];
const volMa20 = [[28,400],[30,1080],[40,1080],[47,1080],[50.5,630],[55,540],[92,540],[115,900],[118,1530],[135,1530],[136.5,540],[210,700],[240,500],[433.7,180],[438,1530],[443,4680],[447.3,12330],[451,15480],[453.8,19980],[458,19980],[459.6,18630],[463,18180],[464.6,15480],[469,16560],[471.8,13230],[474.7,10980],[484,10530],[487,5580],[490.5,3330],[500.6,3060],[504,5580],[512,5400],[519.3,5130],[523,2880],[535,2880],[541,1980],[549.5,1080],[554.5,1080],[556.7,2880],[564,2430],[574,3060],[576.8,1530],[585.5,1710],[596.3,2430]];
const volMa60 = [[55,540],[92,540],[136,900],[175,900],[181,540],[300,600],[420,450],[433.7,180],[443,1530],[447.3,4680],[453.8,7380],[464,7650],[469,10080],[477.6,10710],[490.5,11430],[500.6,10710],[507,8730],[513.5,6480],[523.6,6480],[528,4230],[542.3,3330],[555.3,2880],[561.7,2880],[574,2430],[596.3,2160]];
const volMa120 = [[446,2430],[454.5,3780],[470.4,5130],[492,6480],[509,6480],[520.7,7200],[543.7,7380],[559.6,7380],[569.6,5580],[578.3,4230],[587,2880],[596.3,2880]];

const markerDays = [187.4, 432];
const markerPrices = [2695, 2136];
const floorNoteDays = [177, 421];
const floorNotePrices = [2815, 2255];
const cloudReadout = ["전환선 9: 2,658", "기준선 26: 2,640", "후행스팬 26: 2,590", "선행스팬1 9,26: 2,649", "선행스팬2 52,26: 2,528"];
const cloudReadoutColors = ["#1f9a72", "#808080", "#9a30b0", "#4466c4", "#4466c4"];
const highDay = 451;
const highPrice = 5075;
const lowDay = 489;
const lowPrice = 1405;

const candleChunks = [candlesA, candlesB, candlesC, candlesD, candlesE, candlesF];
const candles = candleChunks.flatMap((chunk, c) =>
  chunk.map(([o, h, l, cl], i) => ({ day: candleChunkStarts[c] + i, o, h, l, c: cl }))
);
const upByDay = new Map(candles.map((k) => [k.day, k.c >= k.o]));
const lateStart = 597 - volumeLate.length;

const lineSet = (pairs, color, width, order, yAxisID = "yP", extra = {}) => ({
  type: "line",
  data: pairs.map(([x, y]) => ({ x, y })),
  borderColor: color,
  backgroundColor: color,
  borderWidth: width,
  pointRadius: 0,
  tension: 0,
  order,
  xAxisID: "x",
  yAxisID,
  borderJoinStyle: "round",
  ...extra,
});
const smooth = { cubicInterpolationMode: "monotone" };
const noAutoPad = (s) => {
  s.paddingTop = 0;
  s.paddingBottom = 0;
  s.paddingLeft = 0;
  s.paddingRight = 0;
};

const artPlugin = {
  id: "art",
  beforeDraw(chart) {
    const { ctx, chartArea: a, scales } = chart;
    const W = chart.width;
    const H = chart.height;
    ctx.save();
    ctx.fillStyle = "#ffffff";
    ctx.fillRect(0, 0, W, H);
    ctx.fillStyle = PANEL;
    ctx.fillRect(a.right, 0, W - a.right, H);
    ctx.fillRect(0, a.bottom, W, H - a.bottom);
    const x = scales.x;
    ctx.fillStyle = "#e3f6fd";
    const bx0 = x.getPixelForValue(trendBandStart);
    ctx.fillRect(bx0, a.top, x.getPixelForValue(trendBandEnd) - bx0, a.bottom - a.top);
    ctx.fillStyle = "#fde4dc";
    pinkBands.forEach(([s, e]) => {
      const p0 = x.getPixelForValue(s);
      ctx.fillRect(p0, a.top, x.getPixelForValue(e) - p0, a.bottom - a.top);
    });
    ctx.restore();
  },
  afterDraw(chart) {
    const { ctx, chartArea: a, scales } = chart;
    const { x, yP, yV } = scales;
    ctx.save();
    ctx.textBaseline = "middle";

    // panel divider
    ctx.fillStyle = "#8f8f8f";
    ctx.fillRect(a.left, yP.bottom - 0.5, chart.width - a.left, 2);

    // level labels
    ctx.font = `12px ${FONT_NUM}`;
    ctx.fillStyle = "#b23a3a";
    ctx.textAlign = "left";
    levels.forEach((v, i) => ctx.fillText(levelLabels[i], a.left + 2, yP.getPixelForValue(v) - 9));

    // cloud readout
    ctx.font = `12.5px ${FONT_KR}`;
    ctx.textAlign = "right";
    cloudReadout.forEach((t, i) => {
      ctx.fillStyle = cloudReadoutColors[i];
      ctx.fillText(t, a.right - 5, 29 + i * 12);
    });

    // extremes
    const hx = x.getPixelForValue(highDay);
    const hy = yP.getPixelForValue(highPrice);
    ctx.strokeStyle = "#e01010";
    ctx.fillStyle = "#c01818";
    ctx.lineWidth = 1;
    ctx.beginPath();
    ctx.moveTo(hx - 16, hy);
    ctx.lineTo(hx, hy);
    ctx.stroke();
    ctx.beginPath();
    ctx.moveTo(hx, hy);
    ctx.lineTo(hx - 6, hy - 4);
    ctx.lineTo(hx - 6, hy + 4);
    ctx.fill();
    ctx.font = `12px ${FONT_KR}`;
    ctx.fillText("최고 5,100 (01/29)", hx - 21, hy);

    const lx = x.getPixelForValue(lowDay);
    const ly = yP.getPixelForValue(lowPrice);
    ctx.strokeStyle = "#1010d0";
    ctx.fillStyle = "#1c1cb8";
    ctx.beginPath();
    ctx.moveTo(lx - 16, ly);
    ctx.lineTo(lx, ly);
    ctx.stroke();
    ctx.beginPath();
    ctx.moveTo(lx, ly);
    ctx.lineTo(lx - 6, ly - 4);
    ctx.lineTo(lx - 6, ly + 4);
    ctx.fill();
    ctx.fillText("최저 1,395 (03/23)", lx - 21, ly);

    // floor notes
    ctx.textAlign = "left";
    ctx.font = `13px ${FONT_KR}`;
    ctx.fillStyle = "rgba(60,60,60,0.85)";
    floorNoteDays.forEach((d, i) => ctx.fillText("바닥락(0.00%)", x.getPixelForValue(d), yP.getPixelForValue(floorNotePrices[i])));

    // volume legend
    const ly2 = yV.top + 9;
    ctx.font = `12px ${FONT_KR}`;
    ctx.fillStyle = "#8a8a8a";
    ctx.fillRect(a.left + 3, ly2 - 3, 5, 6);
    [["거래량", "#4a9a9a", 31], ["단순 5", "#c030b0", 75], ["20", "#f0a020", 118], ["60", "#2a8a3a", 138], ["120", "#808080", 158]].forEach(([t, c, px]) => {
      ctx.fillStyle = c;
      ctx.fillText(t, px, ly2);
    });
    ctx.fillStyle = "#333333";
    ctx.fillText("6,528,438주(67,40%)", a.left + 4, yV.top + 22);

    // right panel readouts
    ctx.textAlign = "left";
    const box = (scale, val, text) => {
      const py = scale.getPixelForValue(val);
      ctx.fillStyle = "#1c5cc0";
      ctx.fillRect(a.right + 5, py - 6, 49, 13);
      ctx.fillStyle = "#ffffff";
      ctx.font = `12px ${FONT_NUM}`;
      ctx.fillText(text, a.right + 8, py + 0.5);
    };
    box(yP, 2590, "2,590");
    box(yV, 6528, "6,528K");
    ctx.fillStyle = "#2a66c8";
    ctx.font = `12px ${FONT_NUM}`;
    ctx.fillText("-7.33%", a.right + 8, yP.getPixelForValue(2590) + 12);
    ctx.fillText("67,40%", a.right + 8, yV.getPixelForValue(6528) + 12);
    ctx.fillText("HC:-49.22%", a.right + 1, 3);
    ctx.fillStyle = "#444444";
    ctx.fillText("08/27", a.right + 9, a.bottom + 8);

    // left gutter
    ctx.fillStyle = "#b9b9b9";
    ctx.fillRect(0, 0, 4, chart.height);
    ctx.fillStyle = "#f3f3f3";
    ctx.fillRect(4, 0, 7, chart.height);
    ctx.fillStyle = "#c8c8c8";
    ctx.fillRect(11, 0, 4, chart.height);
    ctx.fillStyle = "#777777";
    ctx.fillRect(15, 0, 1.5, chart.height);
    ctx.fillStyle = "#9a9a9a";
    [1024, 1045, 1066].forEach((py) => ctx.fillRect(0, py, 16, 1));

    // tool icon
    ctx.fillStyle = "#d8d8d8";
    ctx.fillRect(23, 4, 13, 12);
    ctx.strokeStyle = "#111111";
    ctx.lineWidth = 1;
    ctx.strokeRect(22.5, 3.5, 14, 13);
    ctx.strokeStyle = "#666666";
    [27, 31].forEach((px) => {
      ctx.beginPath();
      ctx.moveTo(px + 0.5, 6);
      ctx.lineTo(px + 0.5, 15);
      ctx.stroke();
    });
    [8, 12].forEach((py) => {
      ctx.beginPath();
      ctx.moveTo(24, py + 0.5);
      ctx.lineTo(35, py + 0.5);
      ctx.stroke();
    });
    ctx.restore();
  },
};

export default function App() {
  const ref = useRef(null);
  useEffect(() => {
    const barBase = { type: "bar", grouped: false, borderWidth: 0, xAxisID: "x" };
    const sideColor = (up) => (up ? COLOR_UP : COLOR_DOWN);
    const wickSet = {
      ...barBase,
      barThickness: 1,
      order: 40,
      yAxisID: "yP",
      data: candles.map((k) => ({ x: k.day, y: [k.l, k.h] })),
      backgroundColor: candles.map((k) => sideColor(k.c >= k.o)),
    };
    const bodySet = {
      ...barBase,
      barThickness: 3,
      minBarLength: 1,
      order: 39,
      yAxisID: "yP",
      data: candles.map((k) => ({ x: k.day, y: [Math.min(k.o, k.c), Math.max(k.o, k.c)] })),
      backgroundColor: candles.map((k) => sideColor(k.c >= k.o)),
    };
    const volEarlySet = {
      ...barBase,
      barThickness: 3,
      order: 20,
      yAxisID: "yV",
      data: volumeEarly.map((v, i) => ({ x: i, y: v })),
      backgroundColor: volumeEarly.map((_, i) => sideColor(upByDay.get(i))),
    };
    const volSpikeSet = {
      ...barBase,
      barThickness: 3,
      order: 19.5,
      yAxisID: "yV",
      data: volumeSpikeDays.map((d, i) => ({ x: d, y: volumeSpikeValues[i] })),
      backgroundColor: volumeSpikeUp.map(sideColor),
    };
    const volLateSet = {
      ...barBase,
      barThickness: 3,
      order: 19,
      yAxisID: "yV",
      data: volumeLate.map(([v], i) => ({ x: lateStart + i, y: v })),
      backgroundColor: volumeLate.map(([, up]) => sideColor(up)),
    };
    const datasets = [
      lineSet(cloudTop, "#3366ff", 1, 50, "yP", { fill: "+1", backgroundColor: "#3366ff" }),
      lineSet(cloudBottom, "#3366ff", 1, 50),
      wickSet,
      bodySet,
      lineSet(maRed, "#d82020", 1, 33, "yP", smooth),
      lineSet(maOrange, "#ee9a20", 1, 32, "yP", smooth),
      lineSet(ma60, "#2a8a3a", 1, 31, "yP", smooth),
      lineSet(maYellow, "#f6f620", 2.6, 30, "yP", smooth),
      lineSet(ma120, "#1818a8", 1.1, 29, "yP", smooth),
      lineSet(maGray, "#8a8a8a", 2.5, 28, "yP", smooth),
      lineSet(bbUpper, "#85305f", 2.5, 27, "yP", smooth),
      lineSet(bbLower, "#85305f", 2.5, 27, "yP", smooth),
      lineSet(ma240, "#000000", 3.5, 26, "yP", smooth),
      lineSet(volMa5Early, "#d02cc0", 1.2, 21, "yV"),
      volEarlySet,
      volSpikeSet,
      volLateSet,
      lineSet(volMa120, "#808080", 1.2, 18, "yV"),
      lineSet(volMa60, "#2a8a3a", 1.2, 17, "yV"),
      lineSet(volMa20, "#eda420", 1.2, 16, "yV"),
      lineSet(volMa5Late, "#d02cc0", 1.2, 15, "yV"),
      ...levels.map((v) => lineSet([[0, v], [X_MAX, v]], "#e01010", 2, 5)),
      {
        type: "line",
        showLine: false,
        order: 4,
        xAxisID: "x",
        yAxisID: "yP",
        data: markerDays.map((d, i) => ({ x: d, y: markerPrices[i] })),
        pointStyle: "triangle",
        rotation: 180,
        pointRadius: 7,
        pointBackgroundColor: "#e01010",
        pointBorderColor: "#e01010",
      },
    ];
    const chart = new Chart(ref.current, {
      type: "bar",
      data: { datasets },
      plugins: [artPlugin],
      options: {
        responsive: false,
        animation: false,
        events: [],
        layout: { autoPadding: false, padding: { left: 17, top: 0, right: 0, bottom: 0 } },
        plugins: { legend: { display: false }, tooltip: { enabled: false } },
        scales: {
          x: {
            type: "linear",
            min: 0,
            max: X_MAX,
            offset: false,
            afterBuildTicks: (s) => {
              s.ticks = monthDays.map((d) => ({ value: d }));
            },
            afterFit: (s) => {
              s.height = 5;
              noAutoPad(s);
            },
            border: { color: "#8a8a8a", width: 1 },
            grid: { color: "#d4d4d4", lineWidth: 1, offset: false, drawTicks: false },
            ticks: {
              autoSkip: false,
              maxRotation: 0,
              minRotation: 0,
              align: "start",
              padding: 3,
              color: "#333333",
              font: { family: FONT_NUM, size: 12 },
              callback: (v) => {
                const i = monthDays.indexOf(v);
                return i >= 0 ? monthLabels[i] : "";
              },
            },
          },
          yP: {
            type: "linear",
            position: "right",
            stack: "panes",
            stackWeight: 847,
            weight: 1,
            min: PRICE_MIN,
            max: PRICE_MAX,
            beginAtZero: false,
            afterBuildTicks: (s) => {
              s.ticks = priceTicks.map((v) => ({ value: v }));
            },
            afterFit: (s) => {
              s.width = 55;
              noAutoPad(s);
            },
            border: { color: "#8a8a8a", width: 1 },
            grid: {
              lineWidth: 1.5,
              tickLength: 5,
              tickWidth: 1,
              tickColor: "#555555",
              color: (c) => (c.tick && c.tick.value % 500 === 0 ? "#d4d4d4" : "rgba(0,0,0,0)"),
            },
            ticks: {
              autoSkip: false,
              padding: 1,
              color: "#444444",
              font: { family: FONT_NUM, size: 12 },
              callback: (v) => (v % 500 === 0 ? Number(v).toLocaleString("en-US") : ""),
            },
          },
          yV: {
            type: "linear",
            position: "right",
            stack: "panes",
            stackWeight: 225,
            weight: 2,
            min: VOL_MIN,
            max: VOL_MAX,
            beginAtZero: false,
            afterBuildTicks: (s) => {
              s.ticks = volumeTicks.map((v) => ({ value: v }));
            },
            afterFit: (s) => {
              s.width = 55;
              noAutoPad(s);
            },
            border: { color: "#8a8a8a", width: 1 },
            grid: {
              lineWidth: 1.5,
              tickLength: 5,
              tickWidth: 1,
              tickColor: "#555555",
              color: (c) => (c.tick && c.tick.value % 10000 === 0 && c.tick.value > 0 ? "#d4d4d4" : "rgba(0,0,0,0)"),
            },
            ticks: {
              autoSkip: false,
              padding: 1,
              color: "#444444",
              font: { family: FONT_NUM, size: 12 },
              callback: (v) => (v % 10000 === 0 && v > 0 ? `${Number(v).toLocaleString("en-US")}K` : ""),
            },
          },
        },
      },
    });
    return () => chart.destroy();
  }, []);
  return (
    <canvas
      ref={ref}
      width={2374}
      height={1077}
      style={{ position: "fixed", left: 0, top: 0, display: "block" }}
    />
  );
}
